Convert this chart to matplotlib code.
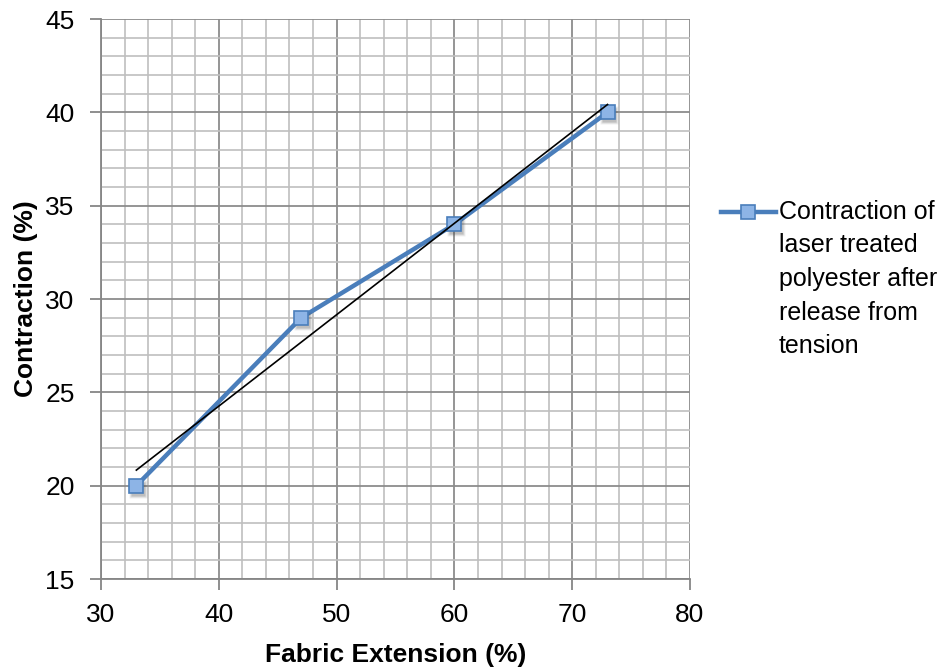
import numpy as np
import matplotlib
matplotlib.use("Agg")
import matplotlib.pyplot as plt
from matplotlib.ticker import MultipleLocator
from matplotlib.lines import Line2D
import matplotlib.transforms as mtransforms

plt.rcParams['font.family'] = ['Liberation Sans', 'DejaVu Sans']

# Data
extension = [33, 47, 60, 73]
contraction = [20, 29, 34, 40]
series_label = "Contraction of\nlaser treated\npolyester after\nrelease from\ntension"

LINE_C = '#4a7ebb'
FILL_C = '#8db4e6'
FS = 19

fig = plt.figure(figsize=(9.53, 6.70), dpi=100)
ax = fig.add_axes([0.106, 0.1358, 0.618, 0.8358])

ax.set_xlim(30, 80)
ax.set_ylim(15, 45)
ax.xaxis.set_major_locator(MultipleLocator(10))
ax.xaxis.set_minor_locator(MultipleLocator(2))
ax.yaxis.set_major_locator(MultipleLocator(5))
ax.yaxis.set_minor_locator(MultipleLocator(1))

ax.grid(which='minor', color='#bfbfbf', linewidth=1.2, zorder=0)
ax.grid(which='major', color='#8c8c8c', linewidth=1.3, zorder=0)
ax.set_axisbelow(True)

for side in ['top', 'right']:
    ax.spines[side].set_visible(False)
for side in ['left', 'bottom']:
    ax.spines[side].set_color('#868686')
    ax.spines[side].set_linewidth(1.3)

ax.tick_params(which='major', length=8, width=1.3, color='#868686',
               labelsize=FS)
ax.tick_params(axis='y', which='major', pad=11)
ax.tick_params(axis='x', which='major', pad=9)
ax.tick_params(which='minor', length=0)

# Series line
ax.plot(extension, contraction, color=LINE_C, linewidth=3.2, zorder=3,
        solid_joinstyle='round')

# Soft drop shadow beneath the markers
shadow = mtransforms.offset_copy(ax.transData, fig=fig, x=1.5, y=-3, units='dots')
for ms, a in [(13, 0.08), (11.5, 0.12), (10, 0.18)]:
    ax.plot(extension, contraction, linestyle='none', marker='s', markersize=ms,
            markerfacecolor='#404040', markeredgecolor='none', alpha=a,
            transform=shadow, zorder=3.5)

# Markers
ax.plot(extension, contraction, linestyle='none', marker='s', markersize=10,
        markerfacecolor=FILL_C, markeredgecolor=LINE_C, markeredgewidth=1.2,
        zorder=4)

# Linear trend line
coef = np.polyfit(extension, contraction, 1)
tx = np.array([min(extension), max(extension)])
ax.plot(tx, np.polyval(coef, tx), color='black', linewidth=1.2, zorder=5)

ax.set_xlabel('Fabric Extension (%)', fontsize=FS, fontweight='bold', labelpad=12)
ax.set_ylabel('Contraction (%)', fontsize=FS, fontweight='bold', labelpad=5)

# Legend: key beside the first line of the wrapped label
ky = 1 - 212 / 670
fig.add_artist(Line2D([721 / 953, 776 / 953], [ky, ky], color=LINE_C,
                      linewidth=3.2, transform=fig.transFigure))
fig.add_artist(Line2D([748 / 953], [ky], linestyle='none', marker='s',
                      markersize=10, markerfacecolor=FILL_C,
                      markeredgecolor=LINE_C, markeredgewidth=1.2,
                      transform=fig.transFigure))
fig.text(779 / 953, 1 - 200 / 670, series_label, fontsize=18, va='top',
         ha='left', linespacing=1.5)

fig.savefig('out.png', dpi=100)
